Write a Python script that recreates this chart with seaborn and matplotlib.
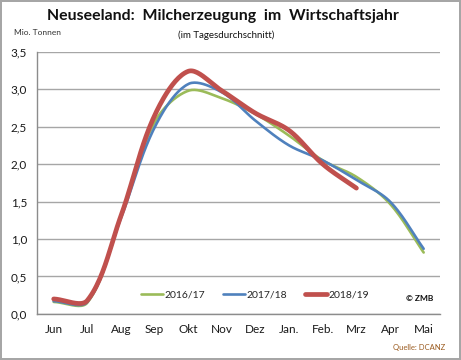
import numpy as np
import matplotlib
matplotlib.use("Agg")
import matplotlib.pyplot as plt
import seaborn as sns

months = ["Jun", "Jul", "Aug", "Sep", "Okt", "Nov", "Dez", "Jan.", "Feb.", "Mrz", "Apr", "Mai"]

milk_1617 = [0.16, 0.15, 1.30, 2.56, 2.98, 2.88, 2.67, 2.38, 2.05, 1.83, 1.47, 0.82]
milk_1718 = [0.17, 0.16, 1.28, 2.49, 3.07, 2.96, 2.58, 2.25, 2.05, 1.79, 1.50, 0.87]
milk_1819 = [0.20, 0.18, 1.31, 2.65, 3.24, 2.98, 2.68, 2.45, 2.00, 1.68]

series = [
    ("2016/17", milk_1617, "#9BBB59", 1.9),
    ("2017/18", milk_1718, "#4F81BD", 1.9),
    ("2018/19", milk_1819, "#C0504D", 3.4),
]


def smooth(vals, sx=33.6, sy=75.0, steps=24):
    # Excel-like "smoothed line": bezier segments, control arms scaled by chord lengths
    pts = np.column_stack([np.arange(len(vals)) * sx, np.asarray(vals, float) * sy])
    n = len(pts)
    ext = np.vstack([2 * pts[0] - pts[1], pts, 2 * pts[-1] - pts[-2]])
    d = np.linalg.norm(np.diff(ext, axis=0), axis=1)
    t = np.linspace(0, 1, steps, endpoint=False)[:, None]
    out = []
    for i in range(n - 1):
        p0, p1, p2, p3 = ext[i], ext[i + 1], ext[i + 2], ext[i + 3]
        d0, d1, d2 = d[i], d[i + 1], d[i + 2]
        c1 = p1 + (p2 - p0) * (d1 / (d0 + d1)) / 3
        c2 = p2 - (p3 - p1) * (d1 / (d1 + d2)) / 3
        out.append((1 - t) ** 3 * p1 + 3 * (1 - t) ** 2 * t * c1
                   + 3 * (1 - t) * t ** 2 * c2 + t ** 3 * p2)
    out.append(pts[-1:])
    out = np.vstack(out)
    return out[:, 0] / sx, out[:, 1] / sy


sns.set_theme(style="white")
plt.rcParams["font.family"] = ["Lato", "DejaVu Sans"]

fig = plt.figure(figsize=(4.61, 3.6), dpi=100)
fig.patch.set_edgecolor("#a6a6a6")
fig.patch.set_linewidth(1.5)
ax = fig.add_axes([0.080, 0.128, 0.8755, 0.728])

for label, vals, color, lw in series:
    cx, cy = smooth(vals)
    sns.lineplot(x=cx, y=cy, ax=ax, color=color, linewidth=lw, label=label,
                 sort=False, estimator=None, solid_capstyle="round")

ax.set_xlim(-0.5, len(months) - 0.5)
ax.set_ylim(0, 3.5)
yticks = np.arange(0, 3.51, 0.5)
ax.set_yticks(yticks)
ax.set_yticklabels([f"{v:.1f}".replace(".", ",") for v in yticks],
                   fontsize=8.5, color="#1a1a1a")
ax.set_xticks(range(len(months)))
ax.set_xticklabels(months, fontsize=8.5, color="#1a1a1a")
ax.set_xticks(np.arange(-0.5, len(months)), minor=True)
ax.tick_params(axis="x", which="major", length=0, pad=7)
ax.tick_params(axis="x", which="minor", length=4, color="#8c8c8c", width=1, direction="out")
ax.tick_params(axis="y", length=4, color="#8c8c8c", width=1, direction="out", pad=3)
ax.yaxis.grid(True, color="#a6a6a6", linewidth=1)
ax.set_axisbelow(True)
for side in ["top", "right"]:
    ax.spines[side].set_visible(False)
for side in ["left", "bottom"]:
    ax.spines[side].set_color("#8c8c8c")
    ax.spines[side].set_linewidth(1)

ax.legend(loc="lower left", bbox_to_anchor=(0.235, 0.02), ncol=3, frameon=False,
          fontsize=7.5, handlelength=2.1, handletextpad=0.15, columnspacing=1.7)

fig.text(0.483, 0.955, "Neuseeland:  Milcherzeugung  im  Wirtschaftsjahr",
         ha="center", va="center", fontsize=11.4, fontweight="bold", color="#111111")
fig.text(0.49, 0.903, "(im Tagesdurchschnitt)", ha="center", va="center",
         fontsize=7, color="#111111")
fig.text(0.03, 0.91, "Mio. Tonnen", ha="left", va="center", fontsize=6, color="#333333")
fig.text(0.88, 0.172, "© ZMB", ha="left", va="center", fontsize=6, fontweight="bold",
         color="#111111")
fig.text(0.965, 0.036, "Quelle: DCANZ", ha="right", va="center", fontsize=5.5,
         color="#9a5a1e")

fig.savefig("out.png", dpi=100, edgecolor=fig.get_edgecolor())
